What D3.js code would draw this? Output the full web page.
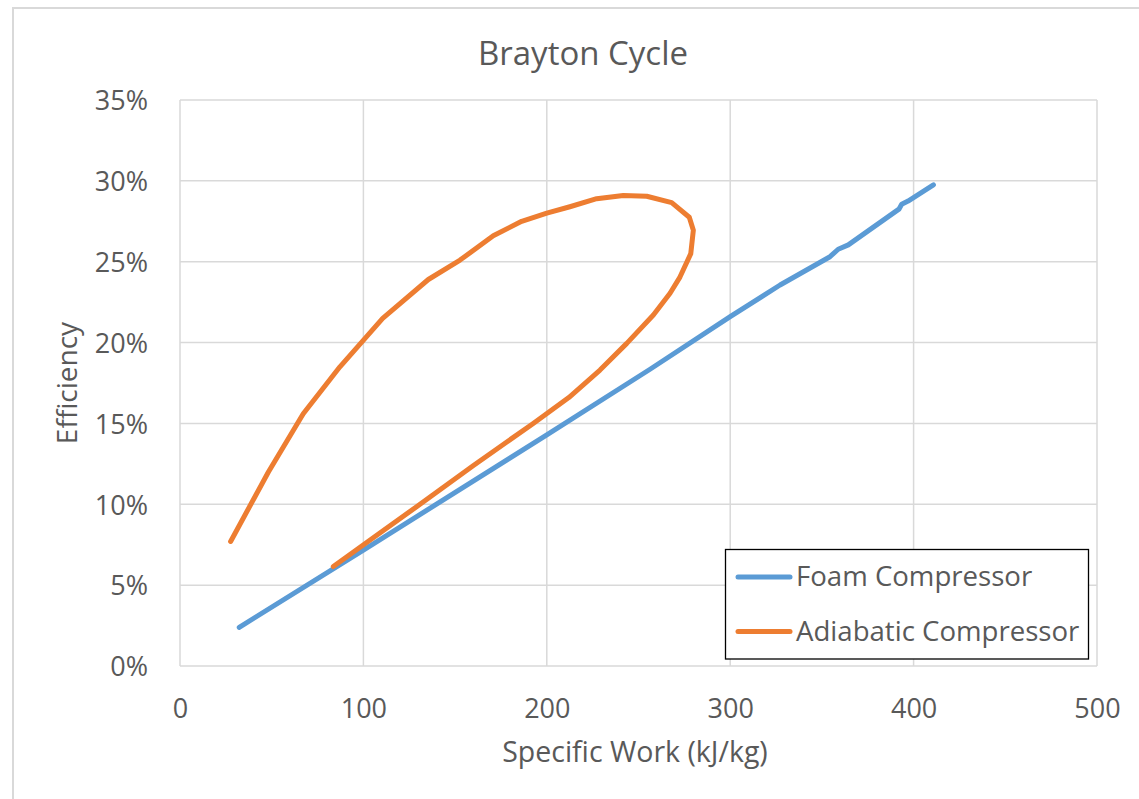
<!DOCTYPE html>
<html>
<head>
<meta charset="utf-8">
<script src="https://cdn.jsdelivr.net/npm/d3@7"></script>
<style>
  html, body { margin: 0; padding: 0; background: #fff; }
  svg { display: block; }
  text { font-family: "Open Sans", "Noto Sans", sans-serif; fill: #595959; }
</style>
</head>
<body>
<svg id="chart" width="1139" height="799"></svg>
<script>
// Specific work (kJ/kg) and cycle efficiency (%) for each compressor model
const foamWork = [32.3, 100, 200, 256.3, 300, 327.2, 354.4, 358.9, 364.4, 392, 393.5, 397, 410.8];
const foamEff  = [2.39, 7.17, 14.29, 18.35, 21.6, 23.56, 25.31, 25.77, 26.04, 28.25, 28.55, 28.75, 29.75];

const adiabaticWork = [27.6, 48.2, 67.2, 87.2, 110.5, 135.4, 152.7, 170.8, 186.3, 200, 212.6, 227.2, 241.7,
  254.5, 268.1, 277.7, 279.9, 278.5, 272.6, 267.2, 258.1, 243.6, 229, 212, 192.6, 160, 129, 105, 83.6];
const adiabaticEff  = [7.7, 12.0, 15.6, 18.5, 21.5, 23.9, 25.1, 26.6, 27.5, 28.0, 28.4, 28.9, 29.1,
  29.05, 28.65, 27.75, 26.95, 25.5, 24.05, 23.05, 21.7, 19.95, 18.3, 16.6, 15.0, 12.4, 9.85, 7.9, 6.15];

const seriesNames = ["Foam Compressor", "Adiabatic Compressor"];
const seriesColors = ["#5B9BD5", "#ED7D31"];
const xTicks = [0, 100, 200, 300, 400, 500];
const yTicks = [0, 5, 10, 15, 20, 25, 30, 35];

const svg = d3.select("#chart");

// outer chart frame (top and left edges)
svg.append("path")
  .attr("d", "M13,800 L13,8 L1140,8")
  .attr("fill", "none").attr("stroke", "#d9d9d9").attr("stroke-width", 2);

const x = d3.scaleLinear().domain([0, 500]).range([180, 1097]);
const y = d3.scaleLinear().domain([0, 35]).range([666, 100]);

// gridlines
const grid = svg.append("g");
grid.selectAll("line.h").data(yTicks).join("line")
  .attr("x1", x(0)).attr("x2", x(500))
  .attr("y1", d => y(d)).attr("y2", d => y(d))
  .attr("stroke", "#d9d9d9").attr("stroke-width", 1.5);
grid.selectAll("line.v").data(xTicks).join("line")
  .attr("y1", y(0)).attr("y2", y(35))
  .attr("x1", d => x(d)).attr("x2", d => x(d))
  .attr("stroke", "#d9d9d9").attr("stroke-width", 1.5);

// axes (labels only, Excel style)
const xAxis = d3.axisBottom(x).tickValues(xTicks).tickSize(0).tickPadding(0);
const gx = svg.append("g").attr("transform", `translate(0,${y(0)})`).call(xAxis);
gx.select(".domain").remove();
gx.selectAll("text").attr("y", 52).attr("dy", null)
  .style("font-size", "27px").attr("fill", "#595959");

const yAxis = d3.axisLeft(y).tickValues(yTicks).tickSize(0).tickFormat(d => d + "%");
const gy = svg.append("g").attr("transform", "translate(148,0)").call(yAxis);
gy.select(".domain").remove();
gy.selectAll("text").attr("x", 0).attr("dy", "0.36em")
  .style("font-size", "27px").attr("fill", "#595959");

// series lines
const line = d3.line().x(d => x(d[0])).y(d => y(d[1]));
const series = [
  d3.zip(foamWork, foamEff),
  d3.zip(adiabaticWork, adiabaticEff)
];
svg.append("g").selectAll("path").data(series).join("path")
  .attr("d", line)
  .attr("fill", "none")
  .attr("stroke", (d, i) => seriesColors[i])
  .attr("stroke-width", 5)
  .attr("stroke-linejoin", "round")
  .attr("stroke-linecap", "round");

// titles
svg.append("text").attr("x", 583).attr("y", 65).attr("text-anchor", "middle")
  .style("font-size", "33px").text("Brayton Cycle");
svg.append("text").attr("x", 635).attr("y", 762).attr("text-anchor", "middle")
  .style("font-size", "28.5px").text("Specific Work (kJ/kg)");
svg.append("text").attr("transform", "translate(77,383) rotate(-90)").attr("text-anchor", "middle")
  .style("font-size", "28px").text("Efficiency");

// legend
const legend = svg.append("g");
legend.append("rect").attr("x", 725.5).attr("y", 549.5).attr("width", 363).attr("height", 109.5)
  .attr("fill", "#fff").attr("stroke", "#000").attr("stroke-width", 1.3);
const items = legend.selectAll("g").data(seriesNames).join("g")
  .attr("transform", (d, i) => `translate(0,${577 + i * 54.5})`);
items.append("line").attr("x1", 738).attr("x2", 790).attr("y1", 0).attr("y2", 0)
  .attr("stroke", (d, i) => seriesColors[i]).attr("stroke-width", 5).attr("stroke-linecap", "round");
items.append("text").attr("x", 796).attr("y", 9).style("font-size", "27.6px").text(d => d);
</script>
</body>
</html>
